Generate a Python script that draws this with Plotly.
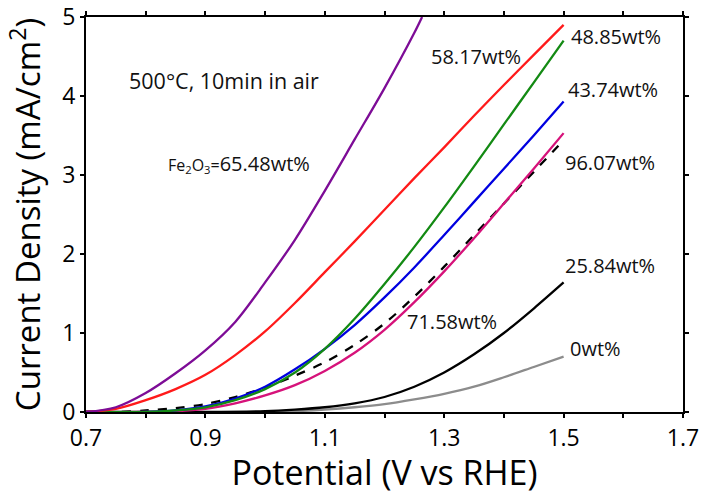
import plotly.graph_objects as go

# Potential (V vs RHE) and current density (mA/cm^2)
v_purple = [0.70, 0.75, 0.80, 0.85, 0.90, 0.95, 1.00, 1.05, 1.10, 1.15, 1.20, 1.25, 1.263]
j_purple = [0.00, 0.06, 0.24, 0.49, 0.78, 1.14, 1.64, 2.18, 2.80, 3.45, 4.10, 4.80, 5.00]

v_red = [0.70, 0.75, 0.80, 0.85, 0.90, 0.95, 1.00, 1.05, 1.10, 1.15, 1.20, 1.25, 1.30, 1.35, 1.40, 1.45, 1.50]
j_red = [0.00, 0.04, 0.15, 0.29, 0.47, 0.72, 1.02, 1.38, 1.77, 2.16, 2.56, 2.96, 3.35, 3.75, 4.14, 4.52, 4.90]

v_green = [0.70, 0.80, 0.85, 0.90, 0.95, 1.00, 1.05, 1.10, 1.15, 1.20, 1.25, 1.30, 1.35, 1.40, 1.45, 1.50]
j_green = [0.00, 0.00, 0.02, 0.06, 0.15, 0.29, 0.50, 0.80, 1.18, 1.62, 2.09, 2.59, 3.11, 3.64, 4.17, 4.70]

v_blue = [0.70, 0.80, 0.85, 0.90, 0.95, 1.00, 1.05, 1.10, 1.15, 1.20, 1.25, 1.30, 1.35, 1.40, 1.45, 1.50]
j_blue = [0.00, 0.00, 0.02, 0.07, 0.17, 0.32, 0.54, 0.80, 1.10, 1.45, 1.83, 2.24, 2.66, 3.08, 3.50, 3.93]

v_dash = [0.70, 0.75, 0.80, 0.85, 0.90, 0.95, 1.00, 1.05, 1.10, 1.15, 1.20, 1.25, 1.30, 1.35, 1.40, 1.45, 1.50]
j_dash = [0.00, 0.00, 0.02, 0.05, 0.10, 0.19, 0.31, 0.46, 0.63, 0.85, 1.12, 1.46, 1.84, 2.24, 2.64, 3.04, 3.44]

v_pink = [0.70, 0.80, 0.85, 0.90, 0.95, 1.00, 1.05, 1.10, 1.15, 1.20, 1.25, 1.30, 1.35, 1.40, 1.45, 1.50]
j_pink = [0.00, 0.00, 0.01, 0.04, 0.11, 0.21, 0.34, 0.52, 0.75, 1.04, 1.39, 1.78, 2.20, 2.64, 3.08, 3.53]

v_black = [0.70, 0.90, 1.00, 1.05, 1.10, 1.15, 1.20, 1.25, 1.30, 1.35, 1.40, 1.45, 1.50]
j_black = [0.00, 0.00, 0.01, 0.03, 0.06, 0.11, 0.19, 0.32, 0.50, 0.73, 1.00, 1.31, 1.64]

v_gray = [0.70, 1.00, 1.05, 1.10, 1.15, 1.20, 1.25, 1.30, 1.35, 1.40, 1.45, 1.50]
j_gray = [0.00, 0.00, 0.01, 0.03, 0.06, 0.10, 0.16, 0.23, 0.32, 0.44, 0.57, 0.70]

labels = ["65.48wt%", "58.17wt%", "48.85wt%", "43.74wt%", "96.07wt%", "71.58wt%", "25.84wt%", "0wt%"]
label_x = [0.956, 1.353, 1.588, 1.583, 1.578, 1.313, 1.578, 1.553]
label_y = [3.15, 4.50, 4.75, 4.08, 3.16, 1.14, 1.86, 0.81]

x_tick_vals = [0.7, 0.8, 0.9, 1.0, 1.1, 1.2, 1.3, 1.4, 1.5, 1.6, 1.7]
x_tick_text = ["0.7", "", "0.9", "", "1.1", "", "1.3", "", "1.5", "", "1.7"]
y_ticks = [0, 1, 2, 3, 4, 5]

FONT = "Open Sans"

series = [
    (v_gray, j_gray, "#8c8c8c", "solid"),
    (v_black, j_black, "#000000", "solid"),
    (v_dash, j_dash, "#000000", "dash"),
    (v_pink, j_pink, "#d6127a", "solid"),
    (v_blue, j_blue, "#0000e0", "solid"),
    (v_green, j_green, "#138a13", "solid"),
    (v_red, j_red, "#ff1a1a", "solid"),
    (v_purple, j_purple, "#7d0c96", "solid"),
]

fig = go.Figure()
for xs, ys, col, dash in series:
    fig.add_trace(go.Scatter(x=xs, y=ys, mode="lines",
                             line=dict(color=col, width=2.3, dash=dash, shape="spline", smoothing=0.9),
                             showlegend=False))

# annotations
for i, (t, x, y) in enumerate(zip(labels, label_x, label_y)):
    text = t
    if i == 0:
        text = "<span style='font-size:16px'>Fe<sub>2</sub>O<sub>3</sub>=</span>" + t
    fig.add_annotation(x=x, y=y, text=text, showarrow=False,
                       font=dict(family=FONT, size=20, color="#111"), xanchor="center", yanchor="middle")
fig.add_annotation(x=0.931, y=4.2, text="500°C, 10min in air", showarrow=False,
                   font=dict(family=FONT, size=21.5, color="#111"), xanchor="center", yanchor="middle")

fig.update_layout(
    width=701, height=495,
    margin=dict(l=86, r=18, t=17, b=83),
    plot_bgcolor="white", paper_bgcolor="white",
    font=dict(family=FONT, color="#000"),
    xaxis=dict(range=[0.7, 1.7], tickvals=x_tick_vals, ticktext=x_tick_text,
               ticks="outside", ticklen=4, tickwidth=1.5, tickcolor="black",
               showline=True, linecolor="black", linewidth=2, mirror="ticks",
               showgrid=False, zeroline=False, automargin=False,
               tickfont=dict(family=FONT, size=23),
               title=dict(text="Potential (V vs RHE)", font=dict(family=FONT, size=34), standoff=14)),
    yaxis=dict(range=[0, 5], tickvals=y_ticks,
               ticks="outside", ticklen=4, tickwidth=1.5, tickcolor="black",
               showline=True, linecolor="black", linewidth=2, mirror="ticks",
               showgrid=False, zeroline=False, automargin=False,
               tickfont=dict(family=FONT, size=23),
               title=dict(text="Current Density (mA/cm<sup>2</sup>)", font=dict(family=FONT, size=33), standoff=12)),
)

fig.write_html("out.html")
